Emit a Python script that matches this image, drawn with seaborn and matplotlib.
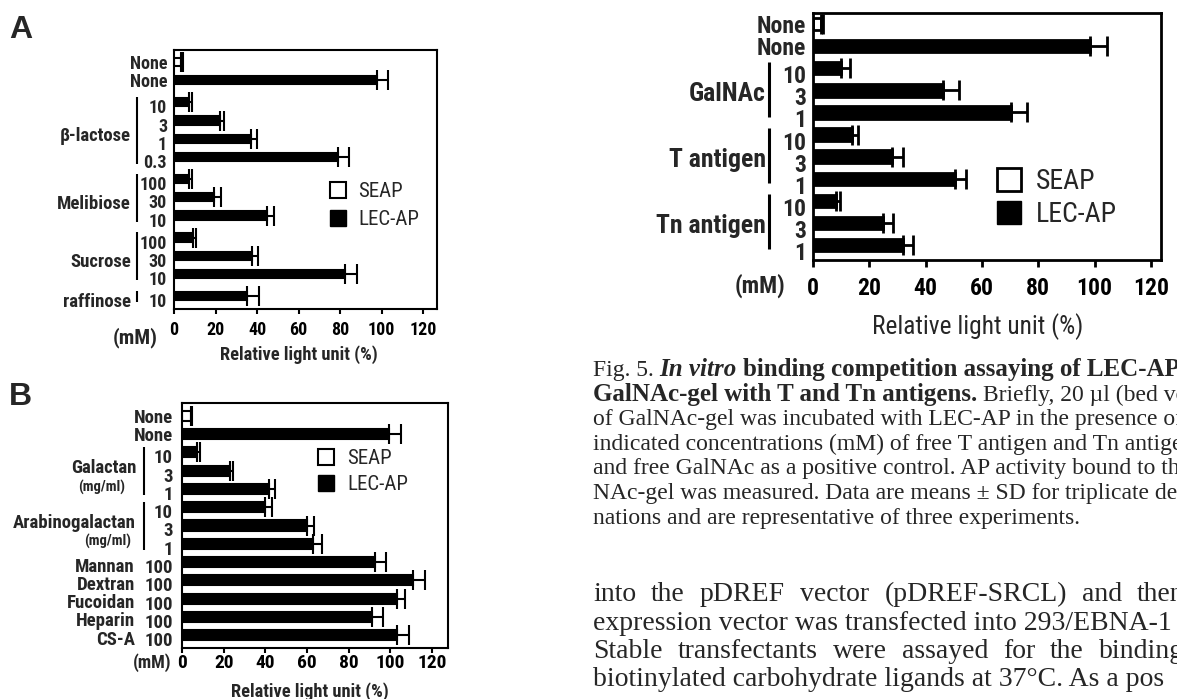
import numpy as np
import pandas as pd
import matplotlib
matplotlib.use("Agg")
import matplotlib.pyplot as plt
import matplotlib.transforms as mtransforms
from matplotlib import font_manager as fm
from matplotlib.patches import Patch
import seaborn as sns

# ---------------- values ----------------
# panel A: small sugars
a_labels = ["None", "None", "10", "3", "1", "0.3", "100", "30", "10", "100", "30", "10", "10"]
a_assay = ["SEAP"] + ["LEC-AP"] * 12
a_values = [3.3, 98, 7, 22, 37, 79, 7, 19.5, 45, 9, 37.5, 82.5, 35]
a_err = [1, 5, 1.5, 2, 3, 5.5, 1.5, 3, 3, 1.5, 3, 5.5, 6]
a_block = [0, 0, 1, 1, 1, 1, 2, 2, 2, 3, 3, 3, 4]
a_groups = [("β-lactose", 2, 5), ("Melibiose", 6, 8), ("Sucrose", 9, 11), ("raffinose", 12, 12)]

# panel B: polysaccharides
b_labels = ["None", "None", "10", "3", "1", "10", "3", "1", "100", "100", "100", "100", "100"]
b_assay = ["SEAP"] + ["LEC-AP"] * 12
b_values = [4.5, 99.5, 7.3, 23, 41.7, 40, 60, 63, 92.5, 110.7, 103, 91.2, 103]
b_err = [0.5, 5.5, 1.5, 1.7, 3, 3, 3.5, 4, 5.3, 6, 4, 5.5, 6]
b_groups = [("Galactan", 2, 4), ("Arabinogalactan", 5, 7)]
b_names = ["Mannan", "Dextran", "Fucoidan", "Heparin", "CS-A"]

# Fig. 5: T / Tn antigens
c_labels = ["None", "None", "10", "3", "1", "10", "3", "1", "10", "3", "1"]
c_assay = ["SEAP"] + ["LEC-AP"] * 10
c_values = [3, 98.5, 10, 46, 70.5, 14, 28, 50.5, 8, 25, 32]
c_err = [0.5, 6, 3, 6, 5.5, 2, 4, 4, 1.5, 3.5, 3.5]
c_groups = [("GalNAc", 2, 4), ("T antigen", 5, 7), ("Tn antigen", 8, 10)]

legend_names = ["SEAP", "LEC-AP"]
palette = {"SEAP": "white", "LEC-AP": "black"}

sns.set_style("ticks")

# the figure lettering is a condensed sans; use one if it is there
installed = {f.name for f in fm.fontManager.ttflist}
narrow = next((n for n in ["Liberation Sans Narrow", "Roboto Condensed", "Arial Narrow",
                           "Open Sans Condensed"] if n in installed), None)
if narrow:
    SANS = [narrow, "Liberation Sans", "DejaVu Sans"]
    SCALE = 1.0
else:
    SANS = ["Liberation Sans", "DejaVu Sans"]
    SCALE = 0.83
SERIF = ["Liberation Serif", "DejaVu Serif"]
plt.rcParams["font.family"] = SANS

W, H = 1177, 699
fig = plt.figure(figsize=(W / 100, H / 100), dpi=100)


def fx(px):
    return px / W


def fy(py):
    return 1 - py / H


def panel(box, labels, assay, values, err, pos, bar_w, xmax, ylim, frame_lw,
          ytick_fs, ytick_pad, xtick_fs, xtick_pad, tick_len, cap, elw, shift):
    left, top, right, bottom = box
    ax = fig.add_axes([fx(left), fy(bottom), (right - left) / W, (bottom - top) / H])
    df = pd.DataFrame({"pos": pos, "value": values, "assay": assay})
    sns.barplot(data=df, x="value", y="pos", hue="assay", hue_order=legend_names,
                orient="y", native_scale=True, dodge=False, palette=palette,
                edgecolor="black", linewidth=frame_lw, width=bar_w,
                errorbar=None, legend=False, ax=ax)
    ax.errorbar(values, pos, xerr=[np.zeros(len(err)), err], fmt="none",
                ecolor="black", elinewidth=elw, capsize=cap, capthick=elw, zorder=3)
    ax.set_xlim(0, xmax)
    ax.set_ylim(*ylim)
    ax.set_xticks(range(0, 121, 20))
    ax.set_yticks(pos, labels)
    ax.set_ylabel("")
    ax.set_xlabel("")
    for sp in ax.spines.values():
        sp.set_visible(True)
        sp.set_linewidth(frame_lw)
        sp.set_color("black")
    ax.tick_params(axis="y", length=0, pad=ytick_pad, labelsize=ytick_fs * SCALE)
    ax.tick_params(axis="x", length=tick_len, width=frame_lw, pad=xtick_pad,
                   labelsize=xtick_fs * SCALE, direction="out", colors="black")
    for lab in ax.get_xticklabels() + ax.get_yticklabels():
        lab.set_fontweight("bold")
    off = mtransforms.ScaledTranslation(0, -shift / 100, fig.dpi_scale_trans)
    for lab in ax.get_yticklabels():
        if lab.get_text() != "None":
            lab.set_transform(lab.get_transform() + off)
    return ax


def bracket(ax, name, first, last, pos, text_px, line_px, fs, dy, lw, top=0.3, bot=0.3):
    tr = mtransforms.blended_transform_factory(fig.transFigure, ax.transData)
    ax.plot([fx(line_px)] * 2, [pos[first] - top, pos[last] + bot], transform=tr,
            clip_on=False, color="black", lw=lw, solid_capstyle="butt")
    mid = (pos[first] + pos[last]) / 2
    ax.text(fx(text_px), mid + dy, name, transform=tr, ha="right", va="center",
            fontsize=fs * SCALE, fontweight="bold")


def add_legend(ax, x_px, y_px, fs, box_px, gap_px, pitch_px, lw):
    fs = fs * SCALE
    fs_px = fs * 100 / 72
    handles = [Patch(facecolor="white", edgecolor="black", linewidth=lw),
               Patch(facecolor="black", edgecolor="black")]
    row_h = max(box_px, fs_px * 1.15)
    ax.legend(handles, legend_names, loc="upper left", bbox_to_anchor=(fx(x_px), fy(y_px)),
              bbox_transform=fig.transFigure, frameon=False, borderpad=0, borderaxespad=0,
              handlelength=box_px / fs_px, handleheight=box_px / fs_px,
              handletextpad=gap_px / fs_px, labelspacing=(pitch_px - row_h) / fs_px,
              prop={"size": fs})


# ---------------- panel A ----------------
a_pos = np.arange(len(a_values)) + 0.2 * np.array(a_block)
ax_a = panel((174, 50, 437, 309), a_labels, a_assay, a_values, a_err, a_pos, 0.45,
             126.7, (a_pos[-1] + 0.71, a_pos[0] - 0.66), 1.5, 13, 5, 13, 5, 3.5, 7, 1.5, 4)
for name, i0, i1 in a_groups:
    bracket(ax_a, name, i0, i1, a_pos, 131, 136.5, 13.5, 0.35, 1.5, 0.3, 0.35)
add_legend(ax_a, 330, 182, 15, 16, 12, 33, 1.5)
ax_a.set_xlabel("Relative light unit (%)", fontsize=13.2 * SCALE, fontweight="bold")
ax_a.xaxis.set_label_coords((299 - 174) / 263, (309 - 345) / 259)
fig.text(fx(113), fy(338), "(mM)", fontsize=15 * SCALE, fontweight="bold", va="center")
fig.text(fx(9), fy(38), "A", fontsize=23, fontweight="bold", family="Liberation Sans")

# ---------------- panel B ----------------
b_pos = np.arange(len(b_values), dtype=float)
ax_b = panel((182, 403, 448, 648), b_labels, b_assay, b_values, b_err, b_pos, 0.55,
             127.7, (b_pos[-1] + 0.71, b_pos[0] - 0.71), 1.5, 13.5, 6.5, 14, 0.5, 3.5, 7, 1.5, 4)
tr_b = mtransforms.blended_transform_factory(fig.transFigure, ax_b.transData)
for name, i0, i1 in b_groups:
    bracket(ax_b, name, i0, i1, b_pos, 136, 144, 13.5, -0.14, 1.5, 0.3, 0.33)
for xc, i0 in [(102, 2), (108, 5)]:
    ax_b.text(fx(xc), b_pos[i0 + 1] + 0.9, "(mg/ml)", transform=tr_b, ha="center",
              va="center", fontsize=10.5 * SCALE, fontweight="bold")
for name, p in zip(b_names, b_pos[8:]):
    ax_b.text(fx(135), p + 0.25, name, transform=tr_b, ha="right", va="center",
              fontsize=13.5 * SCALE, fontweight="bold")
add_legend(ax_b, 318, 449, 15, 16, 13, 31, 1.5)
ax_b.set_xlabel("Relative light unit (%)", fontsize=13.2 * SCALE, fontweight="bold")
ax_b.xaxis.set_label_coords((310 - 182) / 266, (648 - 682) / 245)
fig.text(fx(133), fy(663), "(mM)", fontsize=13 * SCALE, fontweight="bold", va="center")
fig.text(fx(9), fy(405), "B", fontsize=23, fontweight="bold", family="Liberation Sans")

# ---------------- Fig. 5 ----------------
c_pos = np.arange(len(c_values), dtype=float)
ax_c = panel((813, 13, 1161, 260), c_labels, c_assay, c_values, c_err, c_pos, 0.56,
             123.6, (c_pos[-1] + 0.68, c_pos[0] - 0.5), 2, 17, 5, 17, 7.5, 5, 7, 2, 6)
for name, i0, i1 in c_groups:
    bracket(ax_c, name, i0, i1, c_pos, 766, 769, 18.5, 0.15, 2.2, 0.3, 0.2)
add_legend(ax_c, 997, 168, 20, 24, 15, 38, 2)
ax_c.set_xlabel("Relative light unit (%)", fontsize=18.3 * SCALE)
ax_c.xaxis.set_label_coords((978 - 813) / 348, (260 - 313) / 247)
fig.text(fx(735), fy(286), "(mM)", fontsize=17 * SCALE, fontweight="bold", va="center")

# ---------------- caption and body text ----------------
renderer = fig.canvas.get_renderer()


def run(x, base, pieces, size):
    for s, kw in pieces:
        fs = kw.pop("size", size)
        t = fig.text(fx(x), fy(base), s, fontsize=fs, va="baseline", family=SERIF, **kw)
        x += t.get_window_extent(renderer).width + size * 0.25 * 100 / 72


def justify(words, x0, x_last, base, size):
    # spread the words so the last one starts where it does on the page
    texts = [fig.text(0, fy(base), w, fontsize=size, va="baseline", family=SERIF)
             for w in words]
    widths = [t.get_window_extent(renderer).width for t in texts]
    gap = (x_last - x0 - sum(widths[:-1])) / (len(words) - 1)
    x = x0
    for t, w in zip(texts, widths):
        t.set_x(fx(x))
        x += w + gap


cap_fs = 17
run(593, 376, [("Fig. 5.", {}),
               ("In vitro", {"fontweight": "bold", "style": "italic", "size": 18}),
               ("binding competition assaying of LEC-AP", {"fontweight": "bold", "size": 18})],
    cap_fs)
run(593, 401, [("GalNAc-gel with T and Tn antigens.", {"fontweight": "bold", "size": 18}),
               ("Briefly, 20 µl (bed volume)", {})], cap_fs)
caption = ["of GalNAc-gel was incubated with LEC-AP in the presence of",
           "indicated concentrations (mM) of free T antigen and Tn antigen",
           "and free GalNAc as a positive control. AP activity bound to the Gal-",
           "NAc-gel was measured. Data are means ± SD for triplicate determi-",
           "nations and are representative of three experiments."]
for i, line in enumerate(caption):
    run(593, 425 + 24.7 * i, [(line, {})], cap_fs)

body_fs = 20
justify(["into", "the", "pDREF", "vector", "(pDREF-SRCL)", "and", "then"], 593, 1137, 601, body_fs)
run(593, 630, [("expression vector was transfected into 293/EBNA-1", {})], body_fs)
justify(["Stable", "transfectants", "were", "assayed", "for", "the", "binding"], 593, 1099, 658, body_fs)
run(593, 686, [("biotinylated carbohydrate ligands at 37°C. As a pos", {})], body_fs)

fig.savefig("out.png", dpi=100)
